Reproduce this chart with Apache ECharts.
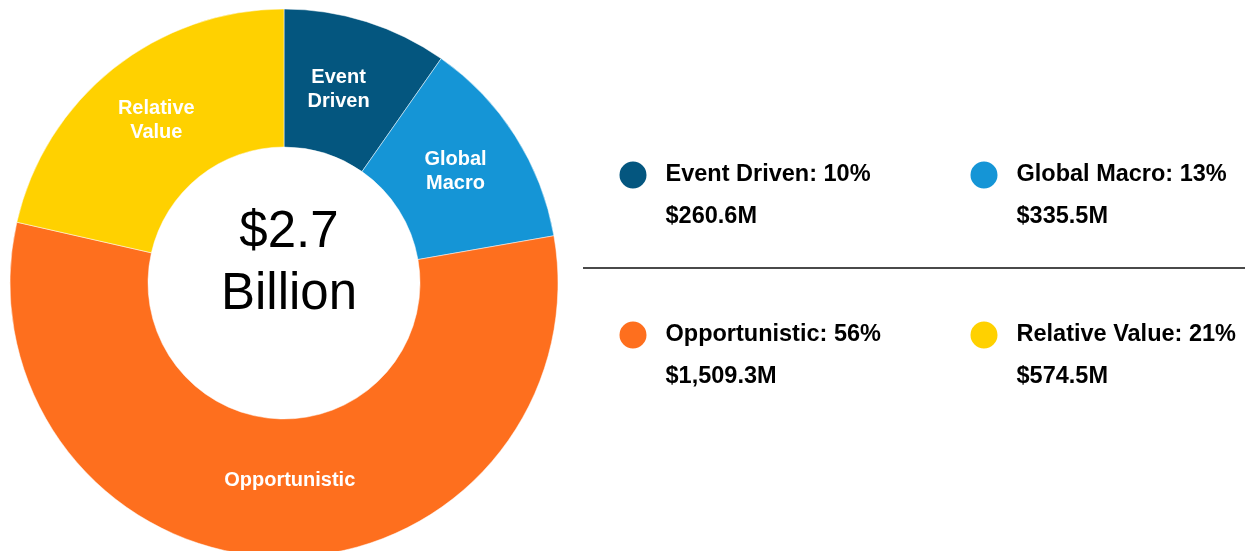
<!DOCTYPE html>
<html>
<head>
<meta charset="utf-8">
<title>Strategy Allocation</title>
<script src="https://cdn.jsdelivr.net/npm/echarts@6/dist/echarts.min.js"></script>
<style>
  html, body { margin: 0; padding: 0; background: #ffffff; }
  #chart { width: 1245px; height: 551px; }
</style>
</head>
<body>
<div id="chart"></div>
<script>
// Strategy allocation ($ millions)
const categories = ['Event Driven', 'Global Macro', 'Opportunistic', 'Relative Value'];
const sliceLabels = ['Event\nDriven', 'Global\nMacro', 'Opportunistic', 'Relative\nValue'];
const valuesM = [260.6, 335.5, 1509.3, 574.5];
const colors = ['#04567f', '#1595d6', '#fe6f1e', '#ffd100'];

// small nudges of the in-slice labels away from the ring's mid-radius
const labelNudge = [[-8, 5], [-4, 0], [11, -10], [2, 0]];

// legend placement: icon centres for the 2 x 2 grid
const legendCols = [632, 983];
const legendRows = [173, 333];

const FONT = '"Liberation Sans", Arial, Helvetica, sans-serif';
const total = valuesM.reduce((a, b) => a + b, 0);

function pct(v) { return Math.round(v / total * 100); }
function money(v) {
  return '$' + v.toLocaleString('en-US', { minimumFractionDigits: 1, maximumFractionDigits: 1 }) + 'M';
}

const pieData = categories.map((name, i) => ({
  name: name,
  value: valuesM[i],
  itemStyle: { color: colors[i] },
  label: { formatter: sliceLabels[i] }
}));

const legends = categories.map((name, i) => {
  const col = i % 2, row = Math.floor(i / 2);
  return {
    data: [name],
    left: legendCols[col] - 14.5,
    top: legendRows[row] - 45,
    padding: 0,
    itemWidth: 29,
    itemHeight: 29,
    icon: 'circle',
    selectedMode: false,
    formatter: function (n) {
      const k = categories.indexOf(n);
      return '{s| }\n{n|' + n + ': ' + pct(valuesM[k]) + '%}\n{v|' + money(valuesM[k]) + '}';
    },
    textStyle: {
      rich: {
        s: { fontSize: 10, lineHeight: 44, padding: [0, 0, 0, 13] },
        n: { fontSize: 23.5, fontWeight: 'bold', fontFamily: FONT, color: '#000', lineHeight: 40, padding: [0, 0, 0, 13] },
        v: { fontSize: 23.5, fontWeight: 'bold', fontFamily: FONT, color: '#000', lineHeight: 44, padding: [0, 0, 0, 13] }
      }
    }
  };
});

const chart = echarts.init(document.getElementById('chart'), null, { renderer: 'canvas' });
chart.setOption({
  backgroundColor: '#ffffff',
  animation: false,
  legend: legends,
  series: [{
    type: 'pie',
    center: [284, 283],
    radius: [136, 274],
    startAngle: 90,
    clockwise: true,
    silent: true,
    data: pieData,
    label: {
      show: true,
      position: 'inside',
      color: '#ffffff',
      fontFamily: FONT,
      fontWeight: 'bold',
      fontSize: 20,
      lineHeight: 24,
      align: 'center'
    },
    labelLayout: function (params) {
      const d = labelNudge[params.dataIndex];
      return { dx: d[0], dy: d[1] };
    },
    labelLine: { show: false },
    itemStyle: { borderColor: '#ffffff', borderWidth: 0.5 }
  }],
  graphic: [
    {
      type: 'text',
      x: 289,
      y: 264,
      style: {
        text: '$' + (total / 1000).toFixed(1) + '\nBillion',
        font: '51px ' + FONT,
        lineHeight: 62,
        fill: '#000000',
        textAlign: 'center',
        textVerticalAlign: 'middle'
      }
    },
    {
      type: 'line',
      shape: { x1: 583, y1: 268, x2: 1245, y2: 268 },
      style: { stroke: '#4a4a4a', lineWidth: 2 }
    }
  ]
});
</script>
</body>
</html>
